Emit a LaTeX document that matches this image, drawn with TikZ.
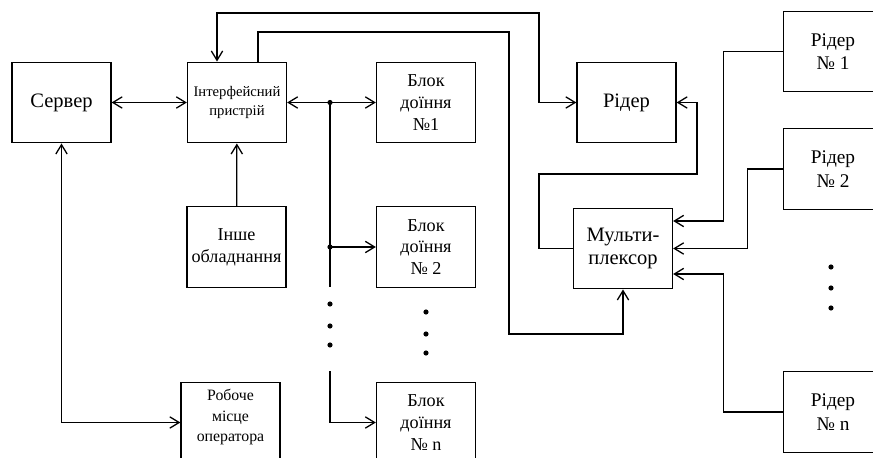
\documentclass[tikz,border=0pt]{standalone}
\usepackage{fontspec}
\setmainfont{Liberation Serif}
\usetikzlibrary{arrows.meta,calc}
\tikzset{
  blok/.style={draw, inner sep=0pt, minimum width=2.97cm, minimum height=2.42cm, align=center, font=\fontsize{15.5}{18.5}\selectfont},
  velyk/.style={font=\fontsize{17.5}{20}\selectfont},
  tochka/.style={fill, circle, inner sep=0pt, minimum size=4.4pt}
}
\begin{document}
\begin{tikzpicture}[x=0.03cm, y=-0.03cm, line width=1.1pt, >={Straight Barb[length=2.8mm,width=3.4mm]}]
\clip (0,0) rectangle (873,458);
% blocks
\node [blok, velyk] (server) at (61.5,102.5) {Сервер};
\node [blok, font=\fontsize{12.5}{16}\selectfont] (iface) at (237,102.5) {Інтерфейсний\\пристрій};
\node [blok] (blok1) at (426,102.5) {Блок\\доїння\\№1};
\node [blok, velyk] (rider) at (626.5,102.5) {Рідер};
\node [blok] (inshe) at (236.5,247) {Інше\\обладнання};
\node [blok] (blok2) at (426,247) {Блок\\доїння\\№ 2};
\node [blok, label={[font=\fontsize{13.5}{17.5}\selectfont, align=center, yshift=4.5pt]center:Робоче\\місце\\оператора}] (oper) at (230.5,422.5) {};
\node [blok] (blokn) at (426,422.5) {Блок\\доїння\\№ n};
\node [blok, velyk] (mux) at (623,248.5) {Мульти-\\плексор};
\node [blok, font=\fontsize{16.5}{20}\selectfont] (rider1) at (833,51.5) {Рідер\\№ 1};
\node [blok, font=\fontsize{16.5}{20}\selectfont] (rider2) at (833,169) {Рідер\\№ 2};
\node [blok, font=\fontsize{16.5}{20}\selectfont] (ridern) at (833,412) {Рідер\\№ n};

% server links
\draw [<->] (server) -- (iface);
\draw [<->] (server.south) |- (oper.west);
\draw [->] (inshe) -- (iface);

% loops over the top
\coordinate (v1) at (539,13);
\draw [<->] ($(iface.north)+(-20,0)$) |- (v1) |- (rider.west);
\coordinate (v2) at (509,32);
\coordinate (v3) at (509,334);
\draw [->] ($(iface.north)+(21,0)$) |- (v2) -- (v3) -| (mux.south);

% bus to the milking blocks
\coordinate (bus1) at (330,102.5);
\coordinate (bus2) at (330,247);
\coordinate (bus3) at (330,371);
\draw [<->] (iface) -- (blok1);
\draw (bus1) -- (330,287);
\draw [->] (bus2) -- (blok2);
\draw [->] (bus3) |- (blokn.west);
\node [tochka] at (bus1) {};
\node [tochka] at (bus2) {};
\foreach \y in {304,326,345} \node [tochka] at (330,\y) {};
\foreach \y in {312,334,353} \node [tochka] at (426,\y) {};

% readers to the multiplexer
\coordinate (m1) at ($(mux.east)+(0,-27.5)$);
\coordinate (m3) at ($(mux.east)+(0,25.5)$);
\draw [->] (rider1.west) -| ($(m1)+(50,0)$) -- (m1);
\draw [->] (rider2.west) -| ($(mux.east)+(74,0)$) -- (mux.east);
\draw [->] (ridern.west) -| ($(m3)+(50,0)$) -- (m3);
\foreach \y in {267,288,308} \node [tochka] at (831,\y) {};
\draw [->] (mux.west) -- ++(-34,0) |- (697,174) |- (rider.east);
\end{tikzpicture}
\end{document}
